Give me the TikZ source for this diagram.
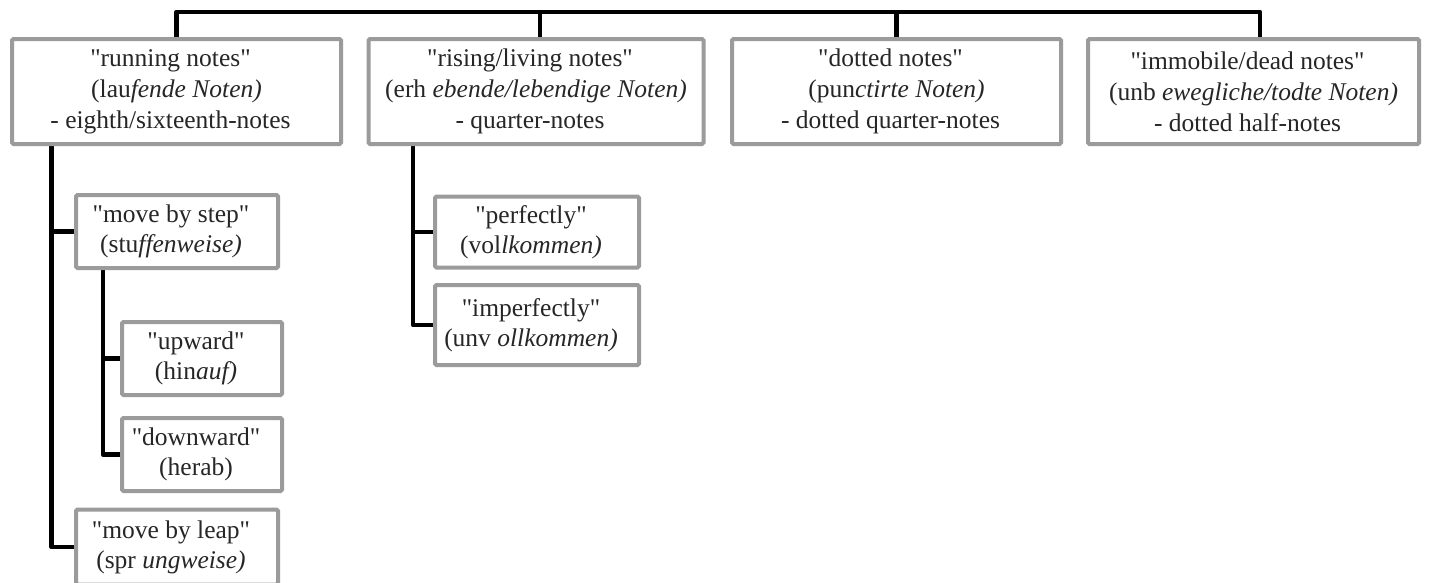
\documentclass[tikz,border=0pt]{standalone}
\usepackage{fontspec}
\setmainfont{Liberation Serif}[Ligatures=TeXOff]
\usetikzlibrary{backgrounds}
\definecolor{boxgray}{RGB}{155,155,155}
\tikzset{
  bx/.style={draw=boxgray, line width=4pt, rounded corners=1.5pt, inner sep=0pt,
    align=center, fill=white, text=black!85, font=\fontsize{25.5}{31}\selectfont},
  sbx/.style={bx, font=\fontsize{25.5}{30}\selectfont},
  conn/.style={draw=black, line width=4.5pt, line join=round},
}
\newcommand{\tr}{\hspace*{12pt}}
\begin{document}
\begin{tikzpicture}[x=1pt,y=-1pt]
\useasboundingbox (0,0) rectangle (1433,582);
% top level boxes
\node[bx, minimum width=329pt, minimum height=105pt] (b1) at (176.5,91.5)
  {"running notes"\tr\\(lau\textit{fende Noten)}\tr\\- eighth/sixteenth-notes\tr};
\node[bx, minimum width=335pt, minimum height=105pt] (b2) at (536,91.5)
  {"rising/living notes"\tr\\(erh \textit{ebende/lebendige Noten)}\tr\\- quarter-notes\tr};
\node[bx, minimum width=329pt, minimum height=105pt] (b3) at (896.5,91.5)
  {"dotted notes"\tr\\(pun\textit{ctirte Noten)}\tr\\- dotted quarter-notes\tr};
\node[bx, minimum width=331pt, minimum height=105pt] (b4) at (1253.5,91.5)
  {"immobile/dead notes"\tr\\(unb \textit{ewegliche/todte Noten)}\tr\\- dotted half-notes\tr};
% sub boxes
\node[sbx, minimum width=202pt, minimum height=73pt] (step) at (177,231.5)
  {"move by step"\tr\\(stu\textit{ffenweise)}\tr};
\node[sbx, minimum width=160pt, minimum height=73pt] (up) at (202,358.5)
  {"upward"\tr\\(hin\textit{auf)}\tr};
\node[sbx, minimum width=160pt, minimum height=73pt] (down) at (202,454.5)
  {"downward"\tr\\(herab)\tr};
\node[sbx, minimum width=202pt, minimum height=75pt] (leap) at (177,547)
  {"move by leap"\tr\\(spr \textit{ungweise)}\tr};
\node[sbx, minimum width=204pt, minimum height=71pt] (perf) at (537,232)
  {"perfectly"\tr\\(vol\textit{lkommen)}\tr};
\node[sbx, minimum width=204pt, minimum height=80pt] (imp) at (537,325)
  {"imperfectly"\tr\\(unv \textit{ollkommen)}\tr};
% connector helpers
\coordinate (bar) at (0,12);
\coordinate (d1) at (b1.north);
\coordinate (d2) at ([xshift=4pt]b2.north);
\coordinate (d3) at (b3.north);
\coordinate (d4) at ([xshift=6.5pt]b4.north);
\coordinate (v1) at (51.5,0);
\coordinate (v2) at (103,0);
\coordinate (v3) at (413,0);
\begin{scope}[on background layer]
  \draw[conn] (d1) -- (d1 |- bar) -- (d4 |- bar) -- (d4);
  \draw[conn] (d2 |- bar) -- (d2);
  \draw[conn] (d3 |- bar) -- (d3);
  \draw[conn] (v1 |- b1.south) |- (leap.west);
  \draw[conn] (v1 |- step.west) -- (step.west);
  \draw[conn] (v2 |- step.south) |- (down.west);
  \draw[conn] (v2 |- up.west) -- (up.west);
  \draw[conn] (v3 |- b2.south) |- (imp.west);
  \draw[conn] (v3 |- perf.west) -- (perf.west);
\end{scope}
\end{tikzpicture}
\end{document}
